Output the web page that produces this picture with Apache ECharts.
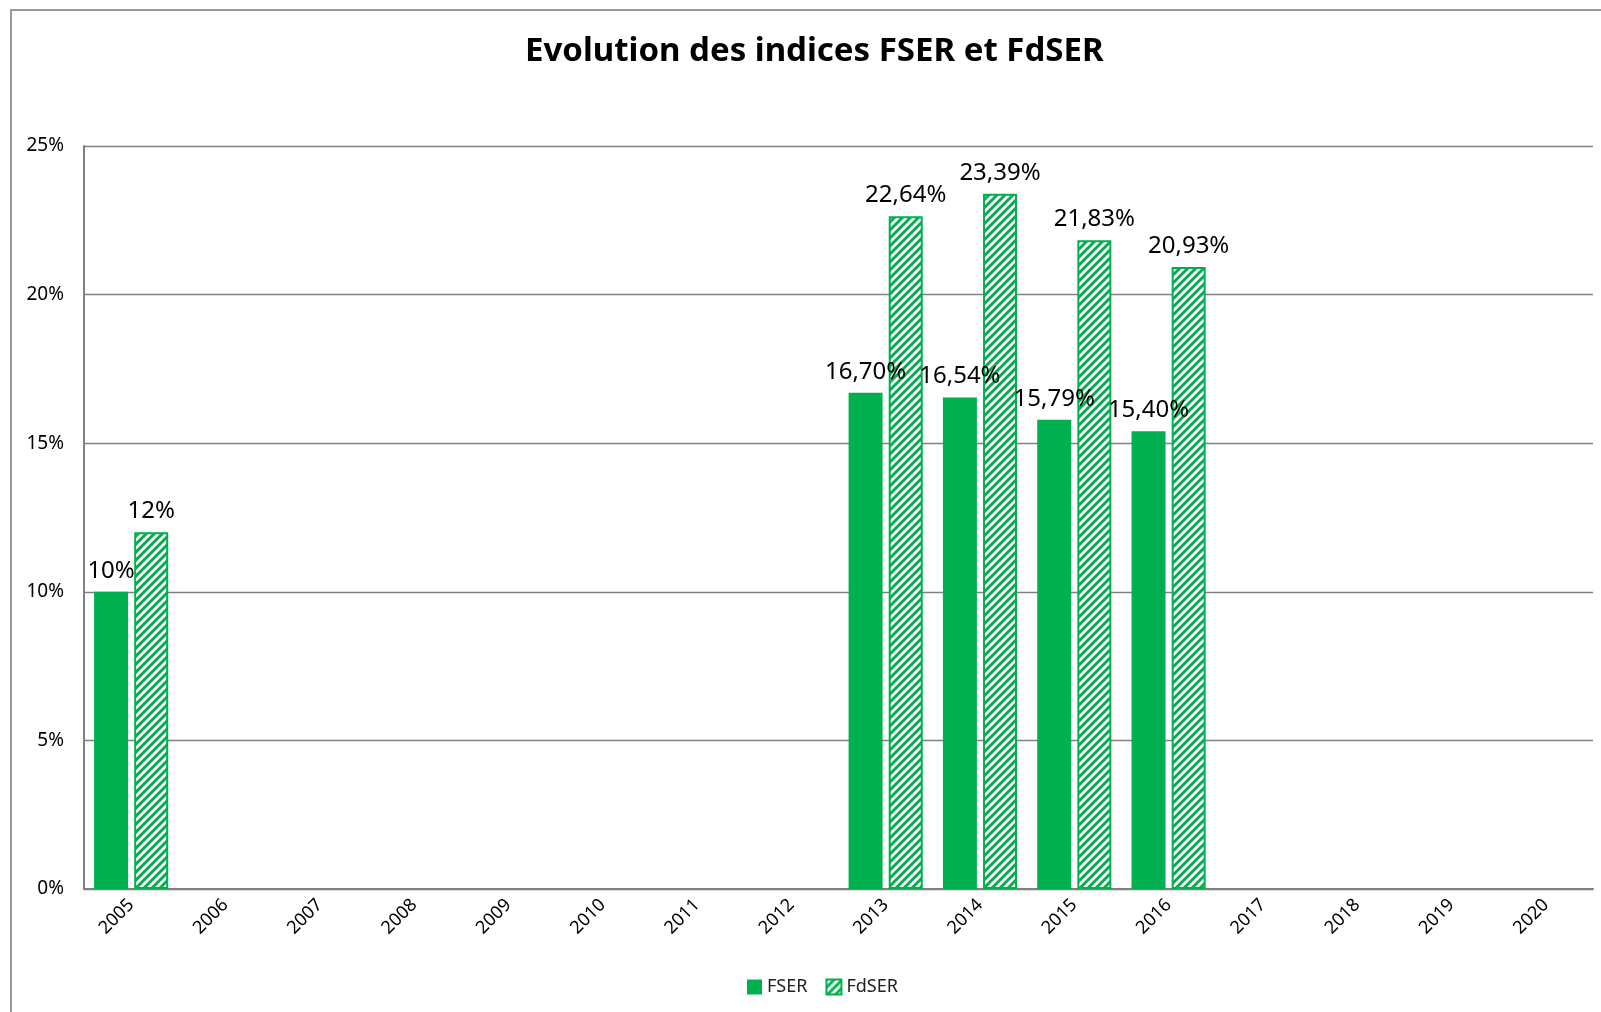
<!DOCTYPE html>
<html>
<head>
<meta charset="utf-8">
<script src="https://cdn.jsdelivr.net/npm/echarts@6/dist/echarts.min.js"></script>
<style>
  html, body { margin: 0; padding: 0; background: #fff; }
  #chart { width: 1601px; height: 1012px; }
</style>
</head>
<body>
<div id="chart"></div>
<script>
var years = ['2005','2006','2007','2008','2009','2010','2011','2012','2013','2014','2015','2016','2017','2018','2019','2020'];
var fser  = [10, null, null, null, null, null, null, null, 16.70, 16.54, 15.79, 15.40, null, null, null, null];
var fdser = [12, null, null, null, null, null, null, null, 22.64, 23.39, 21.83, 20.93, null, null, null, null];

var green = '#00B050';
var font = '"Noto Sans", "Open Sans", sans-serif';

// hachures vertes (diagonales "/")
function makeHatch() {
    var c = document.createElement('canvas');
    c.width = 8; c.height = 8;
    var ctx = c.getContext('2d');
    ctx.fillStyle = '#fff';
    ctx.fillRect(0, 0, 8, 8);
    ctx.strokeStyle = green;
    ctx.lineWidth = 3;
    ctx.beginPath();
    ctx.moveTo(-2, 10); ctx.lineTo(10, -2);
    ctx.moveTo(-6, 6); ctx.lineTo(6, -6);
    ctx.moveTo(2, 14); ctx.lineTo(14, 2);
    ctx.stroke();
    return c;
}
var hatch = makeHatch();

function fmt(p) {
    var v = p.value;
    if (v == null) return '';
    if (Math.round(v) === v) return v + '%';
    return v.toFixed(2).replace('.', ',') + '%';
}

var myChart = echarts.init(document.getElementById('chart'));
var option = {
    animation: false,
    backgroundColor: '#fff',
    title: {
        text: 'Evolution des indices FSER et FdSER',
        left: 520,
        top: 30,
        textStyle: { fontFamily: font, fontSize: 33, fontWeight: 'bold', color: '#000' }
    },
    graphic: [{
        type: 'rect',
        shape: { x: 11, y: 10, width: 1620, height: 1050 },
        style: { fill: 'none', stroke: '#999', lineWidth: 2 },
        silent: true, z: -1
    }],
    legend: {
        bottom: 11,
        left: 742,
        itemWidth: 15,
        itemHeight: 15,
        itemGap: 18,
        textStyle: { fontFamily: font, fontSize: 18, color: '#222' },
        data: [
            { name: 'FSER', icon: 'rect' },
            { name: 'FdSER', icon: 'rect' }
        ]
    },
    grid: { left: 84, right: 8, top: 146, bottom: 123 },
    xAxis: {
        type: 'category',
        data: years,
        axisLine: { lineStyle: { color: '#808080', width: 2 } },
        axisTick: { show: false },
        axisLabel: { rotate: 45, fontFamily: font, fontSize: 18, color: '#000', margin: 13 }
    },
    yAxis: {
        type: 'value',
        min: 0,
        max: 25,
        interval: 5,
        axisLine: { show: true, lineStyle: { color: '#808080', width: 2 } },
        axisTick: { show: false },
        splitLine: { lineStyle: { color: '#808080', width: 1.3 } },
        axisLabel: {
            fontFamily: font, fontSize: 19, color: '#000', margin: 20,
            formatter: function (v) { return v + '%'; }
        }
    },
    series: [
        {
            name: 'FSER',
            type: 'bar',
            data: fser,
            barWidth: 34,
            barGap: '18%',
            itemStyle: { color: green },
            label: {
                show: true, position: 'top', distance: 9,
                fontFamily: font, fontSize: 24, color: '#000',
                formatter: fmt
            }
        },
        {
            name: 'FdSER',
            type: 'bar',
            data: fdser,
            barWidth: 34,
            itemStyle: {
                color: { image: hatch, repeat: 'repeat' },
                borderColor: green,
                borderWidth: 2
            },
            label: {
                show: true, position: 'top', distance: 9,
                fontFamily: font, fontSize: 24, color: '#000',
                formatter: fmt
            }
        }
    ]
};
myChart.setOption(option);
</script>
</body>
</html>
